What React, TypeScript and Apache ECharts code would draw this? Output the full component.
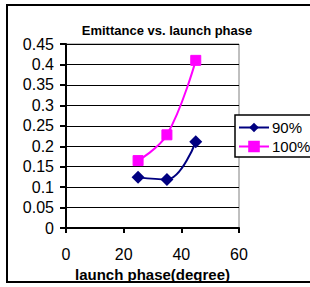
import React, { useEffect, useRef } from "react";
import * as echarts from "echarts";

const phases90 = [25, 35, 45];
const values90 = [0.124, 0.119, 0.211];
const phases100 = [25, 35, 45];
const values100 = [0.165, 0.228, 0.41];
const seriesNames = ["90%", "100%"];
const titleText = "Emittance vs. launch phase";
const xName = "launch phase(degree)";

export default function App() {
  const ref = useRef<HTMLDivElement>(null);
  useEffect(() => {
    if (!ref.current) return;
    const chart = echarts.init(ref.current, null, { renderer: "svg" });
    const font = "Arial, 'Liberation Sans', sans-serif";
    chart.setOption({
      animation: false,
      backgroundColor: "#ffffff",
      title: {
        text: titleText,
        left: 162,
        top: 19,
        textAlign: "center",
        textStyle: { fontFamily: font, fontSize: 13, fontWeight: "bold", color: "#000" },
      },
      grid: {
        left: 66,
        right: 71,
        top: 44,
        bottom: 58,
        show: true,
        borderColor: "#808080",
        borderWidth: 1,
        containLabel: false,
      },
      xAxis: {
        type: "value",
        min: 0,
        max: 60,
        interval: 20,
        name: xName,
        nameLocation: "middle",
        nameGap: 29,
        nameTextStyle: { fontFamily: font, fontSize: 15, fontWeight: "bold", color: "#000" },
        axisLine: { show: true, onZero: false, lineStyle: { color: "#000", width: 2 } },
        axisTick: { show: true, inside: false, length: 5, lineStyle: { color: "#000", width: 2 } },
        axisLabel: { fontFamily: font, fontSize: 16, color: "#000", margin: 18 },
        splitLine: { show: false },
      },
      yAxis: {
        type: "value",
        min: 0,
        max: 0.45,
        interval: 0.05,
        axisLine: { show: true, lineStyle: { color: "#000", width: 2 } },
        axisTick: { show: true, inside: false, length: 6, lineStyle: { color: "#000", width: 2 } },
        axisLabel: { fontFamily: font, fontSize: 16, color: "#000", margin: 12 },
        splitLine: { show: true, lineStyle: { color: "#000", width: 1 } },
      },
      legend: {
        orient: "vertical",
        left: 235,
        top: 115,
        width: 90,
        backgroundColor: "#fff",
        borderColor: "#000",
        borderWidth: 1.5,
        padding: [5, 10, 3, 3],
        itemGap: 4,
        itemWidth: 30,
        itemHeight: 12,
        textStyle: { fontFamily: font, fontSize: 15, color: "#000", padding: [0, 0, 0, -2] },
        data: seriesNames,
      },
      series: [
        {
          name: seriesNames[0],
          type: "line",
          smooth: 0.4,
          data: phases90.map((p, i) => [p, values90[i]]),
          symbol: "diamond",
          symbolSize: 13,
          itemStyle: { color: "#000080" },
          lineStyle: { color: "#000080", width: 2 },
        },
        {
          name: seriesNames[1],
          type: "line",
          smooth: 0.4,
          data: phases100.map((p, i) => [p, values100[i]]),
          symbol: "rect",
          symbolSize: 10,
          itemStyle: { color: "#FF00FF", borderColor: "#FF00FF", borderWidth: 1 },
          lineStyle: { color: "#FF00FF", width: 2 },
        },
      ],
      graphic: [
        {
          type: "rect",
          shape: { x: 7, y: 5, width: 320, height: 277 },
          style: { fill: "none", stroke: "#000", lineWidth: 2 },
          silent: true,
          z: 100,
        },
      ],
    });
    return () => chart.dispose();
  }, []);
  return (
    <div
      ref={ref}
      style={{ position: "absolute", left: 0, top: 0, width: 310, height: 287 }}
    />
  );
}
